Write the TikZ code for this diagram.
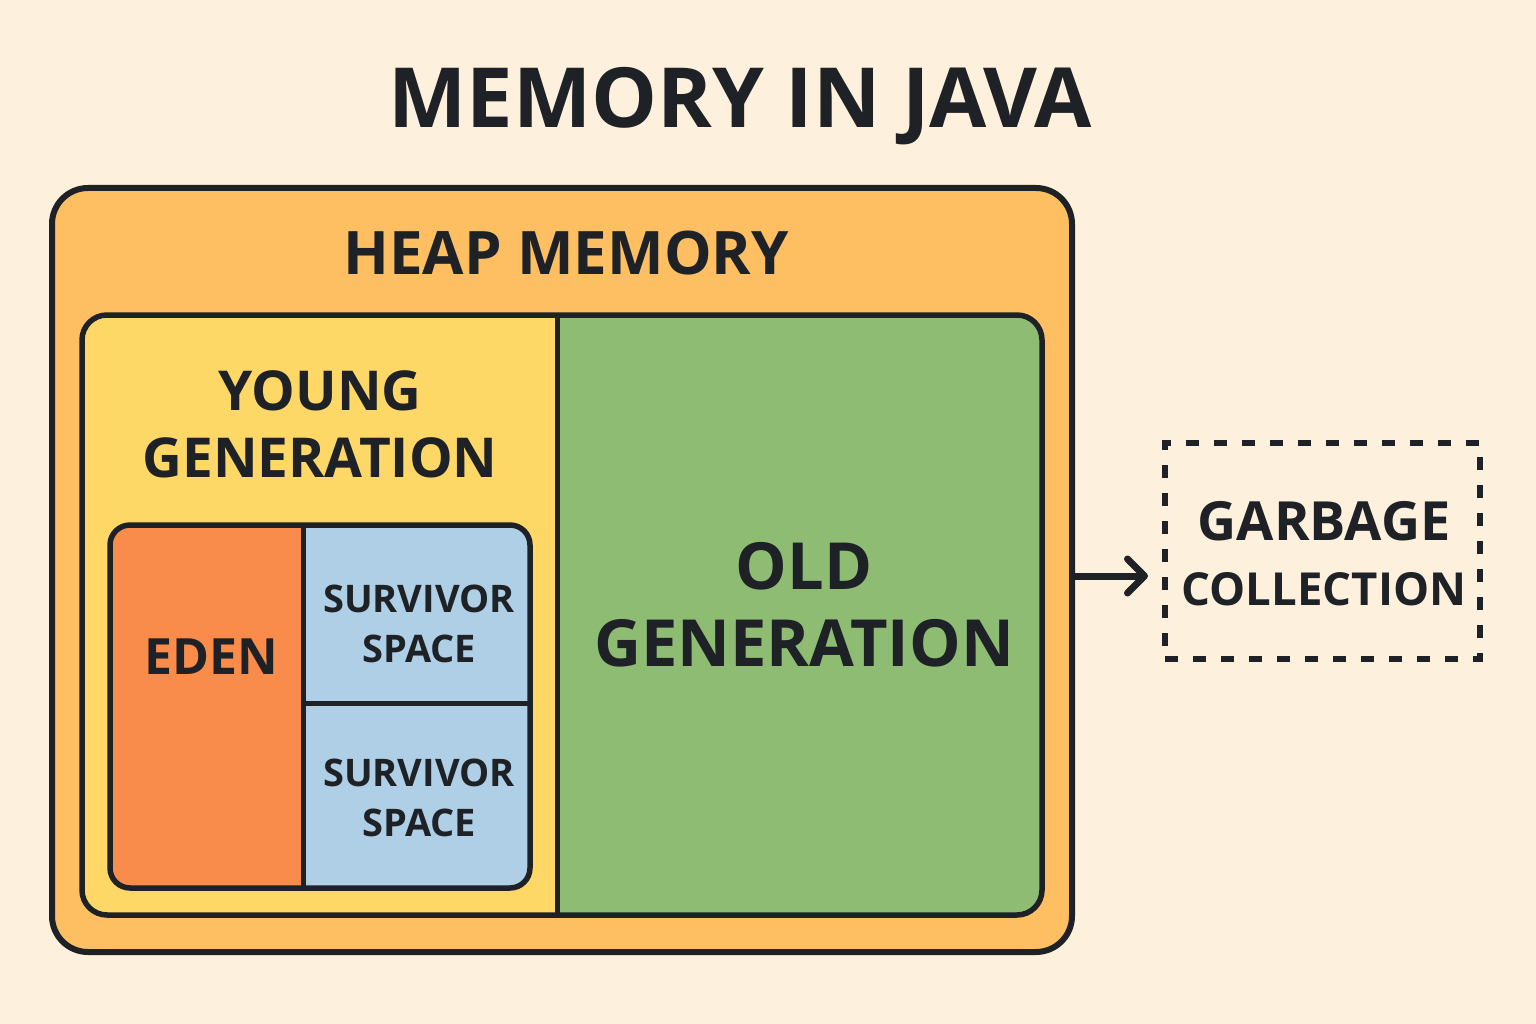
\documentclass[tikz,border=0pt]{standalone}
\usepackage{fontspec}
\setmainfont{Open Sans}
\usetikzlibrary{arrows.meta}
\definecolor{bg}{HTML}{FDF0DC}
\definecolor{ink}{HTML}{1E2226}
\definecolor{heapc}{HTML}{FDBF62}
\definecolor{youngc}{HTML}{FED866}
\definecolor{oldc}{HTML}{8FBC73}
\definecolor{edenc}{HTML}{F98B4B}
\definecolor{survc}{HTML}{AECFE5}
\begin{document}
\begin{tikzpicture}[x=1pt,y=-1pt,
  lbl/.style={text=ink,font=\bfseries,inner sep=0pt,align=center,anchor=base},
  boxline/.style={draw=ink,line width=5.5pt},
  divline/.style={draw=ink,line width=5pt}]
\fill[bg] (0,0) rectangle (1536,1024);
\useasboundingbox (0,0) rectangle (1536,1024);
% title
\node[lbl,font=\bfseries\fontsize{83}{100}\selectfont] (title) at (740,128) {MEMORY IN JAVA};
% heap
\node[boxline,line width=6pt,fill=heapc,rounded corners=36pt,minimum width=1020pt,minimum height=764pt,inner sep=0pt] (heap) at (562,570) {};
\node[lbl,font=\bfseries\fontsize{60}{70}\selectfont] (heaplbl) at (566,275) {HEAP MEMORY};
% inner container
\fill[oldc,rounded corners=25pt] (82,315) rectangle (1042,915);
\begin{scope}
  \clip[rounded corners=25pt] (82,315) rectangle (1042,915);
  \fill[youngc] (82,315) rectangle (557,915);
\end{scope}
\node[boxline,rounded corners=25pt,minimum width=960pt,minimum height=600pt,inner sep=0pt] (inner) at (562,615) {};
\draw[divline] (557,315) -- (557,915);
\node[lbl,font=\bfseries\fontsize{55}{67}\selectfont] (young) at (320,477) {YOUNG\\GENERATION};
\node[lbl,font=\bfseries\fontsize{65}{77}\selectfont] (old) at (804,666) {OLD\\GENERATION};
% eden / survivor
\begin{scope}
  \clip[rounded corners=20pt] (110,525) rectangle (530,888);
  \fill[edenc] (110,525) rectangle (303,888);
  \fill[survc] (303,525) rectangle (530,888);
\end{scope}
\node[boxline,rounded corners=20pt,minimum width=420pt,minimum height=363pt,inner sep=0pt] (ybox) at (320,706.5) {};
\draw[divline] (303,525) -- (303,888);
\draw[divline] (303,703) -- (530,703);
\node[lbl,font=\bfseries\fontsize{50}{60}\selectfont] (eden) at (211,674) {EDEN};
\node[lbl,font=\bfseries\fontsize{38}{50}\selectfont] (surv1) at (419,662) {SURVIVOR\\SPACE};
\node[lbl,font=\bfseries\fontsize{38}{50}\selectfont] (surv2) at (419,836) {SURVIVOR\\SPACE};
% garbage collection
\node[draw=ink,line width=6pt,dash pattern=on 13pt off 15pt,minimum width=315pt,minimum height=216pt,inner sep=0pt] (gc) at (1322.5,551) {};
\node[lbl,font=\bfseries\fontsize{54}{60}\selectfont] (gc1) at (1324,540) {GARBAGE};
\node[lbl,font=\bfseries\fontsize{45.5}{60}\selectfont] (gc2) at (1324,605) {COLLECTION};
\coordinate (ay) at (0,576);
\coordinate (gcin) at (1148,576);
\draw[draw=ink,line width=7pt,line cap=round,line join=round,
  -{Straight Barb[length=17pt,width=34pt,line width=7pt,line cap=round,line join=round]}]
  (heap.east |- ay) -- (gcin);
\end{tikzpicture}
\end{document}
